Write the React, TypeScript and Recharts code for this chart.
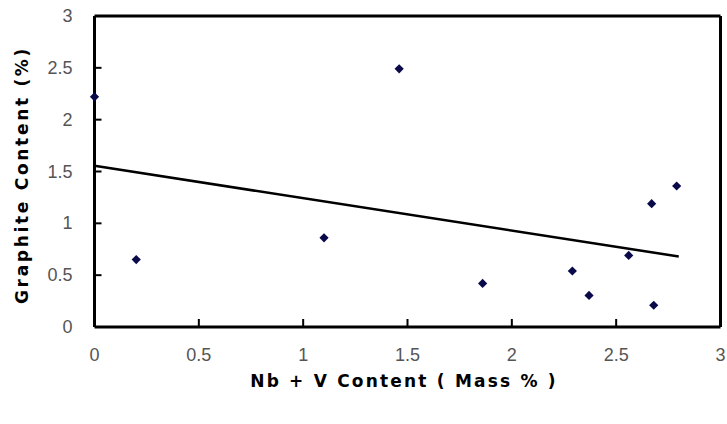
import React from "react";
import { ScatterChart, Scatter, XAxis, YAxis } from "recharts";

const nbV = [0, 0.2, 1.1, 1.46, 1.86, 2.29, 2.37, 2.56, 2.67, 2.68, 2.79];
const graphite = [2.22, 0.65, 0.86, 2.49, 0.42, 0.54, 0.305, 0.69, 1.19, 0.21, 1.36];
const trendX = [0, 2.8];
const trendY = [1.555, 0.68];
const xTicks = [0, 0.5, 1, 1.5, 2, 2.5, 3];
const yTicks = [0, 0.5, 1, 1.5, 2, 2.5, 3];
const innerXTicks = [0.5, 1, 1.5, 2, 2.5];
const innerYTicks = [0.5, 1, 1.5, 2, 2.5];

const points = nbV.map((x, i) => ({ x, y: graphite[i] }));
const trend = trendX.map((x, i) => ({ x, y: trendY[i] }));
const xMarks = innerXTicks.map((x) => ({ x, y: 0 }));
const yMarks = innerYTicks.map((y) => ({ x: 0, y }));

const tickFont = { fontFamily: "'Liberation Sans', Arial, sans-serif", fontSize: 18, fill: "#555" };

const YTick = (props: any) => {
  const { x, y, payload } = props;
  return (
    <text x={x - 22} y={y} textAnchor="end" dominantBaseline="central" {...tickFont}>
      {String(payload.value)}
    </text>
  );
};

const XTick = (props: any) => {
  const { x, y, payload } = props;
  return (
    <text x={x} y={y + 28} textAnchor="middle" dominantBaseline="central" {...tickFont}>
      {String(payload.value)}
    </text>
  );
};

const XMark = (props: any) => {
  const { cx, cy } = props;
  if (cx == null || cy == null) return null;
  return <rect x={cx - 1} y={cy - 8} width={2} height={8} fill="#000" />;
};

const YMark = (props: any) => {
  const { cx, cy } = props;
  if (cx == null || cy == null) return null;
  return <rect x={cx} y={cy - 1} width={7} height={2} fill="#000" />;
};

const Diamond = (props: any) => {
  const { cx, cy } = props;
  if (cx == null || cy == null) return null;
  const r = 4.6;
  return (
    <polygon
      points={`${cx},${cy - r} ${cx + r},${cy} ${cx},${cy + r} ${cx - r},${cy}`}
      fill="#0a0a4a"
    />
  );
};

const NoTick = () => <g />;

const labelStyle = {
  fontFamily: "'DejaVu Sans', sans-serif",
  fontSize: 17,
  fontWeight: 700,
  fill: "#000",
};

const border = { stroke: "#000", strokeWidth: 3 };

export default function App() {
  return (
    <div style={{ position: "absolute", left: 0, top: 0, width: 727, height: 424, background: "#fff" }}>
      <ScatterChart width={727} height={424} margin={{ top: 16, right: 6.5, bottom: 37, left: 24.5 }}>
        <XAxis
          xAxisId="b"
          type="number"
          dataKey="x"
          domain={[0, 3]}
          ticks={xTicks}
          tick={<XTick />}
          tickLine={false}
          tickSize={0}
          tickMargin={0}
          axisLine={border}
          height={60}
        />
        <XAxis xAxisId="t" orientation="top" mirror type="number" dataKey="x" domain={[0, 3]} ticks={xTicks} tick={NoTick} tickLine={false} axisLine={border} height={10} />
        <YAxis
          yAxisId="l"
          type="number"
          dataKey="y"
          domain={[0, 3]}
          ticks={yTicks}
          tick={<YTick />}
          tickLine={false}
          tickSize={0}
          tickMargin={0}
          axisLine={border}
          width={70}
        />
        <YAxis yAxisId="r" orientation="right" mirror type="number" dataKey="y" domain={[0, 3]} ticks={yTicks} tick={NoTick} tickLine={false} axisLine={border} width={10} />
        <Scatter xAxisId="b" yAxisId="l" data={xMarks} shape={<XMark />} isAnimationActive={false} />
        <Scatter xAxisId="b" yAxisId="l" data={yMarks} shape={<YMark />} isAnimationActive={false} />
        <Scatter xAxisId="b" yAxisId="l" data={trend} line={{ stroke: "#000", strokeWidth: 2.5 }} shape={() => null} isAnimationActive={false} />
        <Scatter xAxisId="b" yAxisId="l" data={points} shape={<Diamond />} isAnimationActive={false} />
      </ScatterChart>
      <svg width={727} height={424} style={{ position: "absolute", left: 0, top: 0, pointerEvents: "none" }}>
        <text x={404} y={381} textAnchor="middle" dominantBaseline="central" {...labelStyle} letterSpacing={2.2}>
          Nb + V Content ( Mass % )
        </text>
        <text
          x={22}
          y={175}
          textAnchor="middle"
          dominantBaseline="central"
          transform="rotate(-90 22 175)"
          {...labelStyle}
          letterSpacing={2.7}
        >
          Graphite  Content  (%)
        </text>
      </svg>
    </div>
  );
}
